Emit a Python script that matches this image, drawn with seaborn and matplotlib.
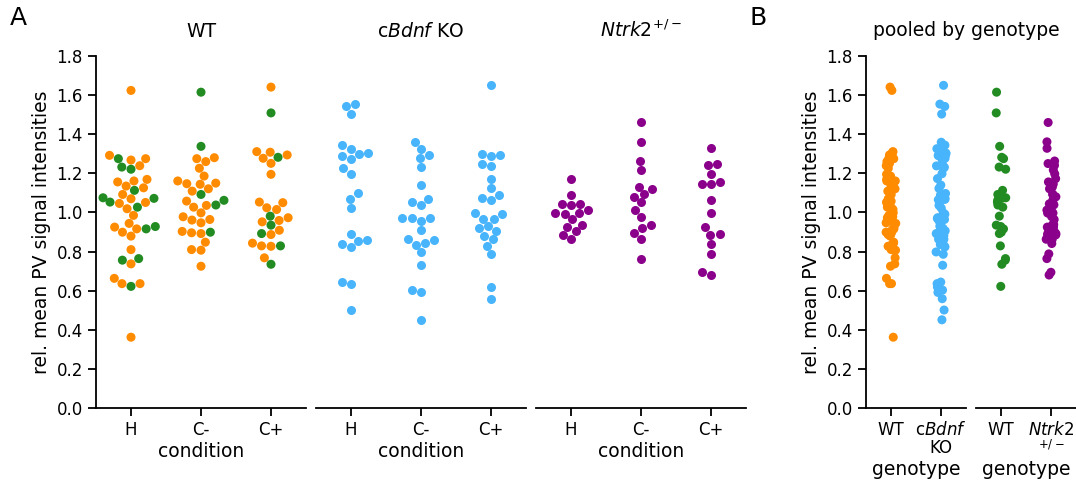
import numpy as np
import pandas as pd
import seaborn as sns
import matplotlib.pyplot as plt

conditions = ["H", "C-", "C+"]

# WT animals of the cBdnf cohort (orange)
wt_cb_H = [1.624, 1.292, 1.268, 1.275, 1.239, 1.161, 1.156, 1.169, 1.126, 1.135,
           1.092, 1.070, 1.046, 1.051, 1.019, 0.985, 0.925, 0.944, 0.916, 0.899,
           0.879, 0.810, 0.737, 0.663, 0.636, 0.636, 0.362]
wt_cb_Cm = [1.280, 1.260, 1.275, 1.226, 1.186, 1.147, 1.144, 1.150, 1.161, 1.109,
            1.121, 1.058, 1.027, 1.036, 0.998, 0.961, 0.964, 0.978, 0.947, 0.903,
            0.896, 0.892, 0.848, 0.810, 0.807, 0.725]
wt_cb_Cp = [1.641, 1.311, 1.308, 1.277, 1.294, 1.251, 1.195, 1.050, 1.053, 1.024,
            1.015, 0.952, 0.959, 0.973, 0.909, 0.887, 0.843, 0.827, 0.829, 0.768]

# WT animals of the Ntrk2 cohort (green)
wt_nt_H = [1.275, 1.232, 1.221, 1.113, 1.075, 1.053, 1.072, 1.027, 0.916, 0.928,
           0.756, 0.764, 0.622]
wt_nt_Cm = [1.615, 1.338, 1.092, 1.062, 1.038, 0.899]
wt_nt_Cp = [1.509, 1.282, 0.981, 0.935, 0.892, 0.829, 0.735]

# cBdnf KO (blue)
cb_H = [1.554, 1.542, 1.503, 1.344, 1.326, 1.289, 1.275, 1.301, 1.304, 1.226,
        1.198, 1.097, 1.068, 1.022, 0.892, 0.858, 0.839, 0.856, 0.824, 0.644,
        0.636, 0.501]
cb_Cm = [1.359, 1.325, 1.294, 1.277, 1.231, 1.140, 1.055, 1.067, 1.036, 0.971,
         0.957, 0.971, 0.973, 0.908, 0.843, 0.836, 0.858, 0.863, 0.798, 0.730,
         0.603, 0.591, 0.451]
cb_Cp = [1.650, 1.296, 1.291, 1.299, 1.250, 1.238, 1.173, 1.123, 1.074, 1.065,
         1.089, 0.991, 0.998, 0.964, 0.969, 0.920, 0.930, 0.906, 0.882, 0.863,
         0.827, 0.786, 0.619, 0.559]

# Ntrk2 +/- (purple)
nt_H = [1.173, 1.091, 1.044, 1.039, 1.043, 1.012, 0.995, 0.991, 0.997, 0.964,
        0.925, 0.937, 0.903, 0.885, 0.863]
nt_Cm = [1.460, 1.361, 1.263, 1.217, 1.121, 1.130, 1.080, 1.094, 1.051, 1.015,
         0.979, 0.938, 0.896, 0.921, 0.863, 0.764]
nt_Cp = [1.328, 1.250, 1.241, 1.197, 1.145, 1.145, 1.156, 1.065, 0.997, 0.926,
         0.892, 0.887, 0.841, 0.788, 0.694, 0.680]

colors = {"wt_cb": "#ff8c00", "wt_nt": "#228b22", "cb": "#47b4fb", "nt": "#8b008b"}

rows = []
for grp, lists in [("wt_cb", [wt_cb_H, wt_cb_Cm, wt_cb_Cp]),
                   ("wt_nt", [wt_nt_H, wt_nt_Cm, wt_nt_Cp]),
                   ("cb", [cb_H, cb_Cm, cb_Cp]),
                   ("nt", [nt_H, nt_Cm, nt_Cp])]:
    for cond, vals in zip(conditions, lists):
        for v in vals:
            rows.append({"group": grp, "condition": cond, "value": v})
df = pd.DataFrame(rows)

sns.set_style("ticks")
plt.rcParams["font.family"] = ["DejaVu Sans"]
plt.rcParams["axes.linewidth"] = 1.3
plt.rcParams["xtick.major.width"] = 1.3
plt.rcParams["ytick.major.width"] = 1.3
plt.rcParams["xtick.major.size"] = 6
plt.rcParams["ytick.major.size"] = 6
for k in ["text.color", "axes.labelcolor", "xtick.color", "ytick.color", "axes.edgecolor"]:
    plt.rcParams[k] = "black"

W, H = 1076, 483
fig = plt.figure(figsize=(W / 100, H / 100), dpi=100)

def add_ax(x0, x1):
    return fig.add_axes([x0 / W, (H - 408) / H, (x1 - x0) / W, (408 - 56) / H])

axA = [add_ax(96, 306), add_ax(316, 526), add_ax(536, 746)]
axB = [add_ax(866, 966), add_ax(976, 1076)]

LBL = 13.5
TCK = 12
MS = 6.5

# Panel A
sns.swarmplot(data=df[df.group.isin(["wt_cb", "wt_nt"])], x="condition", y="value",
              hue="group", palette=colors, order=conditions, size=MS,
              legend=False, ax=axA[0])
sns.swarmplot(data=df[df.group == "cb"], x="condition", y="value", order=conditions,
              color=colors["cb"], size=MS, ax=axA[1])
sns.swarmplot(data=df[df.group == "nt"], x="condition", y="value", order=conditions,
              color=colors["nt"], size=MS, ax=axA[2])

titles = ["WT", r"c$\it{Bdnf}$ KO", r"$\it{Ntrk2}^{+/-}$"]
for i, ax in enumerate(axA):
    ax.set_xlim(-0.5, 2.5)
    ax.set_ylim(0, 1.8)
    ax.set_title(titles[i], fontsize=LBL, pad=14)
    ax.set_xlabel("condition", fontsize=LBL, labelpad=2)
    ax.tick_params(axis="both", labelsize=TCK)
    sns.despine(ax=ax)
    if i == 0:
        ax.set_yticks(np.arange(0, 1.81, 0.2))
        ax.set_ylabel("rel. mean PV signal intensities", fontsize=LBL)
    else:
        ax.spines["left"].set_visible(False)
        ax.tick_params(left=False, labelleft=False)
        ax.set_ylabel("")

# Panel B
dfB1 = df[df.group.isin(["wt_cb", "cb"])].copy()
dfB2 = df[df.group.isin(["wt_nt", "nt"])].copy()
sns.stripplot(data=dfB1, x="group", y="value", hue="group", order=["wt_cb", "cb"],
              palette=colors, size=MS, jitter=True, legend=False, ax=axB[0])
sns.stripplot(data=dfB2, x="group", y="value", hue="group", order=["wt_nt", "nt"],
              palette=colors, size=MS, jitter=True, legend=False, ax=axB[1])

blabels = [["WT", "c$\\it{Bdnf}$\nKO"], ["WT", "$\\it{Ntrk2}$\n${}^{+/-}$"]]
for i, ax in enumerate(axB):
    ax.set_xlim(-0.5, 1.5)
    ax.set_ylim(0, 1.8)
    ax.set_xticks([0, 1])
    ax.set_xticklabels(blabels[i], fontsize=TCK, linespacing=1.0)
    ax.set_xlabel("genotype", fontsize=LBL, labelpad=2)
    ax.tick_params(axis="both", labelsize=TCK)
    sns.despine(ax=ax)
    if i == 0:
        ax.set_yticks(np.arange(0, 1.81, 0.2))
        ax.set_ylabel("rel. mean PV signal intensities", fontsize=LBL)
    else:
        ax.spines["left"].set_visible(False)
        ax.tick_params(left=False, labelleft=False)
        ax.set_ylabel("")

fig.text(966 / W, 1 - 30 / H, "pooled by genotype", fontsize=LBL,
         ha="center", va="center")
fig.text(18 / W, 1 - 18 / H, "A", fontsize=18, ha="center", va="center")
fig.text(758 / W, 1 - 18 / H, "B", fontsize=18, ha="center", va="center")

fig.savefig("out.png", dpi=100)
